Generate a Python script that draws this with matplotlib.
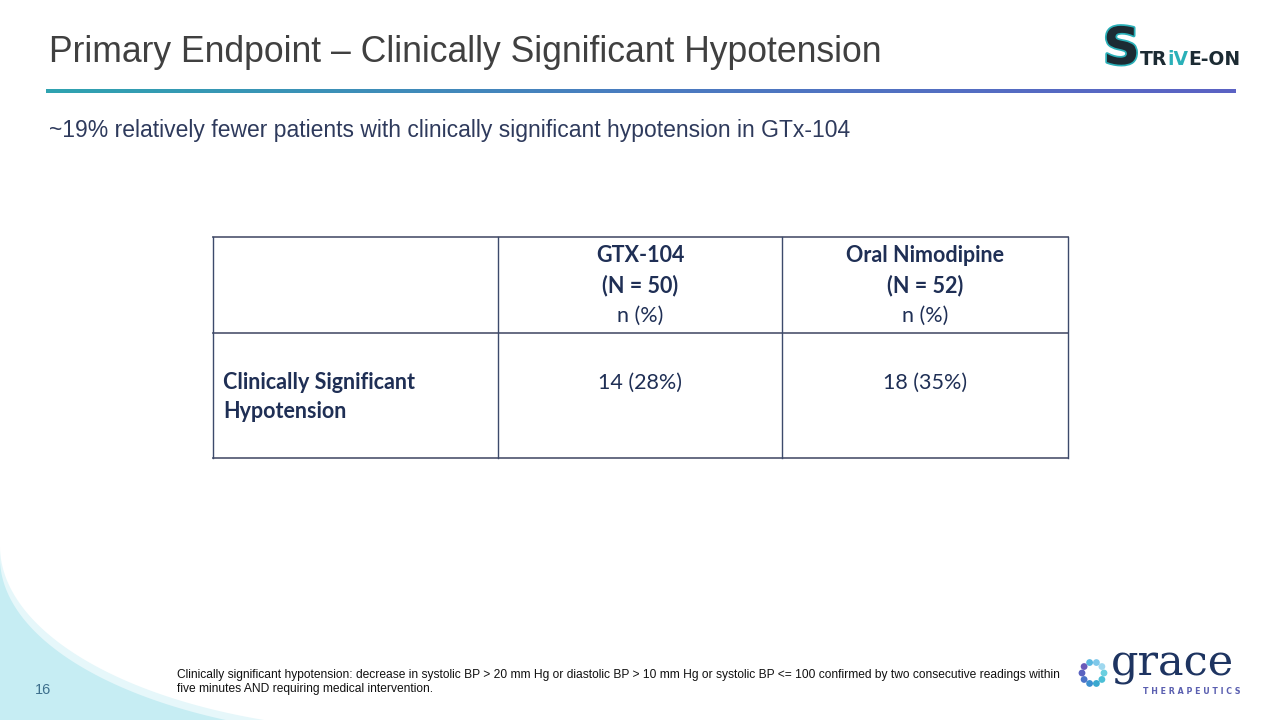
import matplotlib.pyplot as plt
import numpy as np
from matplotlib.patches import Polygon, Circle
from matplotlib.colors import LinearSegmentedColormap
import matplotlib.patheffects as pe

# table content
col_titles = ['GTX-104', 'Oral Nimodipine']
col_n = [50, 52]
row_label = 'Clinically Significant\nHypotension'
n_events = [14, 18]
pct_events = [28, 35]

title = 'Primary Endpoint \u2013 Clinically Significant Hypotension'
subtitle = '~19% relatively fewer patients with clinically significant hypotension in GTx-104'
footnote = ('Clinically significant hypotension: decrease in systolic BP > 20 mm Hg or diastolic BP > 10 mm Hg '
            'or systolic BP <= 100 confirmed by two consecutive readings within\n'
            'five minutes AND requiring medical intervention.')

navy = '#1f2f55'
grey = '#404040'

fig = plt.figure(figsize=(12.8, 7.2), dpi=100)
ax = fig.add_axes([0, 0, 1, 1])
ax.axis('off')


def swoosh(cx, cy, a, b, color):
    # lower-left quarter of an ellipse, filled out to the bottom-left corner
    th = np.linspace(np.pi / 2, np.pi, 300)
    xs = cx + a * np.cos(th)
    ys = cy + b * np.sin(th)
    keep = (xs >= 0) & (ys <= 720)
    xs, ys = xs[keep], ys[keep]
    pts = np.column_stack([np.r_[xs[0], xs, 0, 0], np.r_[720, ys, ys[-1], 720]])
    ax.add_patch(Polygon(pts, closed=True, color=color, lw=0, zorder=0))


# background swoosh bottom-left
swoosh(400, 546, 400, 185, '#e6f7fa')
swoosh(400, 558, 400, 180, '#c6edf3')

# title and gradient rule
ax.text(49, 52, title, fontsize=25.6, color=grey, family='Liberation Sans', va='center', ha='left')
grad = np.linspace(0, 1, 256).reshape(1, -1)
cmap = LinearSegmentedColormap.from_list('rule', ['#2fa3b0', '#4a7cc0', '#5b62c4'])
ax.imshow(grad, cmap=cmap, extent=[46, 1236, 93.5, 90], aspect='auto', zorder=1)

ax.text(49, 130, subtitle, fontsize=16.5, color='#2e3a5c', family='Liberation Sans', va='center', ha='left')

# table
col_edges = [213, 498, 782, 1068]
row_edges = [237, 333, 458]
for y in row_edges:
    ax.plot([col_edges[0], col_edges[-1]], [y, y], color='#5a6078', lw=1.3, zorder=2)
for x in col_edges:
    ax.plot([x, x], [row_edges[0], row_edges[-1]], color='#3c4a6b', lw=1.0, zorder=2)

for i in range(len(col_titles)):
    xc = (col_edges[i + 1] + col_edges[i + 2]) / 2
    ax.text(xc, 256, col_titles[i], fontsize=15.5, fontweight='bold', color=navy,
            family='Lato', ha='center', va='center')
    ax.text(xc, 286, '(N = %d)' % col_n[i], fontsize=15.5, fontweight='bold', color=navy,
            family='Lato', ha='center', va='center')
    ax.text(xc, 316, 'n (%)', fontsize=15.5, color=navy, family='Lato', ha='center', va='center')
    ax.text(xc, 383, '%d (%d%%)' % (n_events[i], pct_events[i]), fontsize=15.5, color=navy,
            family='Lato', ha='center', va='center')

ax.text(223, 397, row_label, fontsize=15.5, fontweight='bold', color=navy, family='Lato',
        ha='left', va='center', linespacing=1.45)

# footnote and page number
ax.text(177, 682, footnote, fontsize=8.65, color='#111111', family='Liberation Sans',
        ha='left', va='center', linespacing=1.25)
ax.text(35, 690, '16', fontsize=10.5, color='#3d6f8c', family='Liberation Sans', ha='left', va='center')

# STRIVE-ON logo (approximation)
s = ax.text(1103, 50, 'S', fontsize=37, fontweight='bold', color='#1c2b33', family='DejaVu Sans',
            ha='left', va='center',
            path_effects=[pe.Stroke(linewidth=2.5, foreground='#2ab0b8'), pe.Normal()])
t1 = ax.annotate('TR', xy=(1.0, 0.12), xycoords=s, fontsize=13.5, fontweight='bold',
                 color='#1c2b33', family='DejaVu Sans', ha='left', va='bottom')
t2 = ax.annotate('iV', xy=(1.0, 0.0), xycoords=t1, fontsize=13.5, fontweight='bold',
                 color='#2ab0b8', family='DejaVu Sans', ha='left', va='bottom')
ax.annotate('E-ON', xy=(1.0, 0.0), xycoords=t2, fontsize=13.5, fontweight='bold',
            color='#1c2b33', family='DejaVu Sans', ha='left', va='bottom')

# grace logo (approximation)
dot_cols = ['#6bd0e0', '#4cbfd6', '#3aa8cf', '#3c8fd0', '#4b74c8', '#5a63c0', '#6a5ab8', '#5ab8e0',
            '#7ec8ea', '#9fd8ef']
for k, c in enumerate(dot_cols):
    a = 2 * np.pi * k / len(dot_cols)
    ax.add_patch(Circle((1093 + 11 * np.cos(a), 673 + 11 * np.sin(a)), 3.4, color=c, lw=0, zorder=3))
ax.text(1111, 664, 'grace', fontsize=31, color='#1e3461', family='DejaVu Serif',
        ha='left', va='center')
ax.text(1143, 691, 'T H E R A P E U T I C S', fontsize=5.7, fontweight='bold', color='#5a5fb0',
        family='DejaVu Sans', ha='left', va='center')

ax.set_xlim(0, 1280)
ax.set_ylim(720, 0)
fig.savefig('out.png', dpi=100)
